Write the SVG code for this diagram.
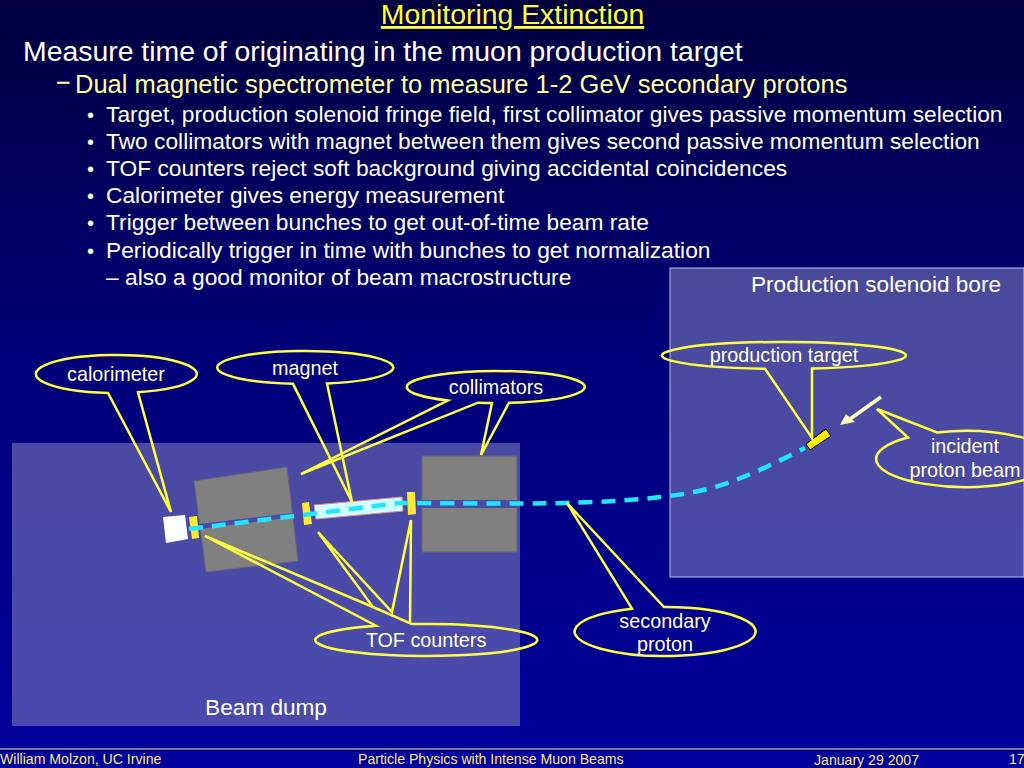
<svg xmlns="http://www.w3.org/2000/svg" width="1024" height="768" viewBox="0 0 1024 768">
<defs>
<linearGradient id="bg" x1="0" y1="0" x2="0" y2="1"><stop offset="0" stop-color="#000040"/><stop offset=".45" stop-color="#000078"/><stop offset="1" stop-color="#00009c"/></linearGradient>
<style>
text{font-family:"Liberation Sans",Arial,sans-serif;fill:#fff}
.l2{font-size:25.5px;fill:#ffff99}.l3{font-size:22.75px}.b{font-size:20px}
.c{font-size:19.8px;fill:#ffffe0;text-anchor:middle}
.call{fill:none;stroke:#ffff40;stroke-width:2.5;stroke-linejoin:miter}
.foot{font-size:14.1px;fill:#ffe680}
.panel{fill:#7777b9;fill-opacity:.62}
.gray{fill:#808080;stroke:#666680;stroke-width:1}
.yel{fill:#ffe835}
.beam{fill:none;stroke:#22e6ff;stroke-width:4.5;stroke-dasharray:14 9}
</style>
</defs>
<rect width="1024" height="768" fill="url(#bg)"/>
<g id="panels">
<rect class="panel" x="12" y="443" width="508" height="283"/>
<rect class="panel" x="670" y="268" width="354" height="309" stroke="#c0c0e8" stroke-width="1"/>
</g>
<g id="title-text">
<text x="512.5" y="24" font-size="28.4" text-anchor="middle" style="fill:#ffff33" text-decoration="underline">Monitoring Extinction</text>
<text x="23" y="61" font-size="28.4">Measure time of originating in the muon production target</text>
<text x="56" y="91" class="l2">−</text><text x="75" y="93" class="l2">Dual magnetic spectrometer to measure 1-2 GeV secondary protons</text>
<g class="l3">
<text x="87" y="122" class="b">•</text><text x="106" y="122">Target, production solenoid fringe field, first collimator gives passive momentum selection</text>
<text x="87" y="149" class="b">•</text><text x="106" y="149">Two collimators with magnet between them gives second passive momentum selection</text>
<text x="87" y="176" class="b">•</text><text x="106" y="176">TOF counters reject soft background giving accidental coincidences</text>
<text x="87" y="203" class="b">•</text><text x="106" y="203">Calorimeter gives energy measurement</text>
<text x="87" y="230" class="b">•</text><text x="106" y="230">Trigger between bunches to get out-of-time beam rate</text>
<text x="87" y="258" class="b">•</text><text x="106" y="258">Periodically trigger in time with bunches to get normalization</text>
<text x="106" y="285">– also a good monitor of beam macrostructure</text>
</g>
<text x="876" y="292" font-size="22.6" text-anchor="middle">Production solenoid bore</text>
<text x="266" y="715" font-size="22.6" text-anchor="middle">Beam dump</text>
</g>
<g id="apparatus">
<g id="dump-magnet"><polygon class="gray" points="194,481 287,467 298,561 206,572"/><path d="M199,524 L293,513 L294,517 L200,529Z" fill="#4a4aa8"/></g>
<g id="collimator"><rect class="gray" x="422" y="456" width="95" height="96"/><rect x="422" y="500" width="95" height="8" fill="#4a4aa8"/></g>
<g id="calorimeter-block"><polygon points="163,517 185,515 188,539 166,543" fill="#fff"/></g>
<g id="tof"><polygon class="yel" points="189,517 197,516 199,538 192,539"/><polygon class="yel" points="302,503 309,502 312,524 304,525"/><polygon class="yel" points="407,492 415,492 416,514 408,515"/></g>
<g id="magnet-box"><polygon points="314,505 402,497 403,511 316,519" fill="#d0ffff" stroke="#e09090" stroke-width="1"/></g>
<g id="target"><polygon points="806,444 826,429 831,436 810,450" fill="#ffee00" stroke="#000" stroke-width="1"/></g>
<g id="incident-arrow"><path d="M881,397 L850,419" stroke="#ffffc0" stroke-width="3.5" fill="none"/><polygon points="840,425 846,414 855,422" fill="#ffffc0"/></g>
</g>
<g id="connectors">
<path class="beam" d="M189,529 L400,503 C430,503 520,504 565,503 C600,502 640,500 660,497 C690,494 712,489 733,481 C760,471 785,458 805,448"/>
</g>
<g id="callouts">
<g id="calorimeter-callout"><path class="call" d="M108,392.9 A80.5,19 0 1 1 138,392.3 L171,512Z"/><text class="c" x="116" y="381">calorimeter</text></g>
<g id="magnet-callout"><path class="call" d="M293,383.85 A88,16.5 0 1 1 327,383.5 L352,502Z"/><text class="c" x="305" y="375">magnet</text></g>
<g id="collimators-callout"><path class="call" d="M448,400.47 L301,474 L478,402.67 A89,16 0 0 0 492,403 L481,455 L509,402.8 A89,16 0 1 0 448,400.47Z"/><text class="c" x="496" y="394">collimators</text></g>
<g id="tof-callout"><path class="call" d="M412,624.1 A111,16 0 1 1 376,625.7 L205,536 L373,607 L318,532 L392,612 L411,520 L410,624 M373,607 L412,624.1"/><text class="c" x="426" y="647">TOF counters</text></g>
<g id="proton-callout"><path class="call" d="M664,607 A90.5,24.5 0 1 1 632,608.7 L567,503Z"/><text class="c" x="665" y="628">secondary</text><text class="c" x="665" y="651">proton</text></g>
<g id="target-callout"><path class="call" d="M812,368.6 A122,13.5 0 1 0 765,368.8 L812,438Z"/><text class="c" x="784" y="362">production target</text></g>
<g id="beam-callout"><path class="call" d="M937,432.4 A89,28 0 1 1 908,437.5 L877,409Z"/><text class="c" x="965" y="453">incident</text><text class="c" x="965" y="477">proton beam</text></g>
</g>
<g id="footer">
<line x1="0" y1="749" x2="1024" y2="749" stroke="#ffe680" stroke-width="1"/>
<text class="foot" x="0" y="764">William Molzon, UC Irvine</text>
<text class="foot" x="358" y="764">Particle Physics with Intense Muon Beams</text>
<text class="foot" x="814" y="765">January 29 2007</text>
<text class="foot" x="1009" y="764">17</text>
</g>
</svg>
